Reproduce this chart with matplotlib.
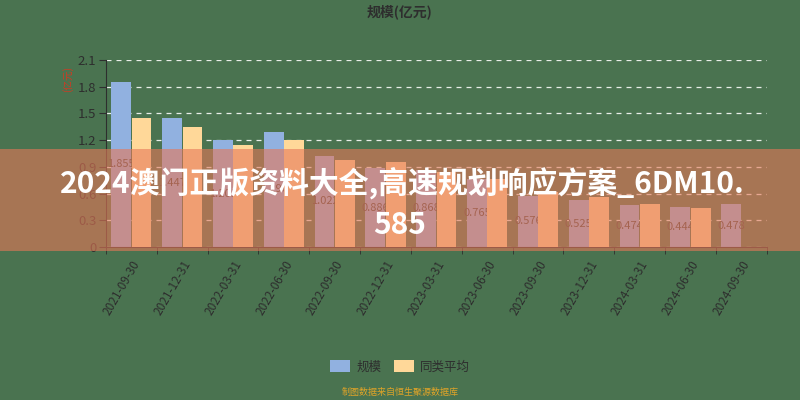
import numpy as np
import matplotlib
matplotlib.use("Agg")
import matplotlib.pyplot as plt
from matplotlib.patches import Rectangle, Patch

plt.rcParams['font.family'] = ['Noto Sans CJK SC', 'DejaVu Sans']

# data
dates = ['2021-09-30', '2021-12-31', '2022-03-31', '2022-06-30', '2022-09-30',
         '2022-12-31', '2023-03-31', '2023-06-30', '2023-09-30', '2023-12-31',
         '2024-03-31', '2024-06-30', '2024-09-30']
scale = [1.855, 1.447, 1.201, 1.296, 1.022, 0.886, 0.868, 0.765, 0.576, 0.525,
         0.474, 0.444, 0.478]
peer_avg = [1.453, 1.352, 1.146, 1.203, 0.978, 0.955, 0.84, 0.76, 0.62, 0.56,
            0.48, 0.435, np.nan]
yticks = [0, 0.3, 0.6, 0.9, 1.2, 1.5, 1.8, 2.1]
ytick_labels = ['0', '0.3', '0.6', '0.9', '1.2', '1.5', '1.8', '2.1']

BG = '#4a7350'
BLUE = '#91b1e0'
ORANGE = '#ffd899'
DARK = '#2e2e2e'

fig = plt.figure(figsize=(8, 4), dpi=100, facecolor=BG)
ax = fig.add_axes([0.1325, 0.3825, 0.826, 0.4675], facecolor=BG)

x = np.arange(len(dates))
w = 0.39
ax.bar(x - 0.2, scale, width=w, color=BLUE, zorder=2)
ax.bar(x + 0.2, peer_avg, width=w, color=ORANGE, zorder=4)

# value labels centred on the blue bars (orange bars cover their right part)
for xi, v in zip(x, scale):
    ax.text(xi - 0.2, v / 2, f'{v:.3f}', ha='center', va='center',
            fontsize=8, color='#444444', zorder=3)

ax.set_xlim(-0.5, len(dates) - 0.5)
ax.set_ylim(0, 2.1)
ax.set_yticks(yticks)
ax.set_yticklabels(ytick_labels, fontsize=9.5, color=DARK)
ax.yaxis.grid(True, color='#e8eee8', linestyle=(0, (4, 4)), linewidth=0.9, zorder=1)

ax.set_xticks(x)
ax.set_xticklabels(dates, rotation=60, ha='right', rotation_mode='anchor',
                   fontsize=8.5, color=DARK)
ax.set_xticks(np.arange(len(dates) + 1) - 0.5, minor=True)
ax.tick_params(axis='x', which='major', length=0, pad=8)
ax.tick_params(axis='x', which='minor', length=5, color=DARK)
ax.tick_params(axis='y', length=5, color=DARK, pad=2)

for s in ['top', 'right']:
    ax.spines[s].set_visible(False)
ax.spines['left'].set_color(DARK)
ax.spines['bottom'].set_color(DARK)

ax.set_ylabel('(亿元)', fontsize=7, color='#d03a22')
ax.yaxis.set_label_coords(-0.05, 0.9)

fig.text(0.5, 0.97, '规模(亿元)', ha='center', va='center', fontsize=10,
         fontweight='bold', color=DARK)

handles = [Patch(facecolor=BLUE, edgecolor='none', label='规模'),
           Patch(facecolor=ORANGE, edgecolor='none', label='同类平均')]
fig.legend(handles=handles, loc='center', bbox_to_anchor=(0.5, 1 - 367 / 400),
           ncol=2, frameon=False, fontsize=9, handlelength=1.6, handleheight=1.1,
           columnspacing=1.0, handletextpad=0.5, labelcolor=DARK)

fig.text(0.5, 1 - 392 / 400, '制图数据来自恒生聚源数据库', ha='center', va='center',
         fontsize=6.5, color='#e0a428')

# semi-transparent watermark band
fig.add_artist(Rectangle((0, 1 - 251 / 400), 1, 102 / 400, transform=fig.transFigure,
                         facecolor='#e77858', alpha=0.6, edgecolor='none', zorder=10))
fig.text(0.503, 1 - 183 / 400, '2024澳门正版资料大全,高速规划响应方案_6DM10.',
         ha='center', va='center', fontsize=21.5, fontweight='bold', color='white',
         zorder=11)
fig.text(0.5, 1 - 225 / 400, '585', ha='center', va='center', fontsize=21.5,
         fontweight='bold', color='white', zorder=11)

fig.savefig('out.png', dpi=100, facecolor=BG)
